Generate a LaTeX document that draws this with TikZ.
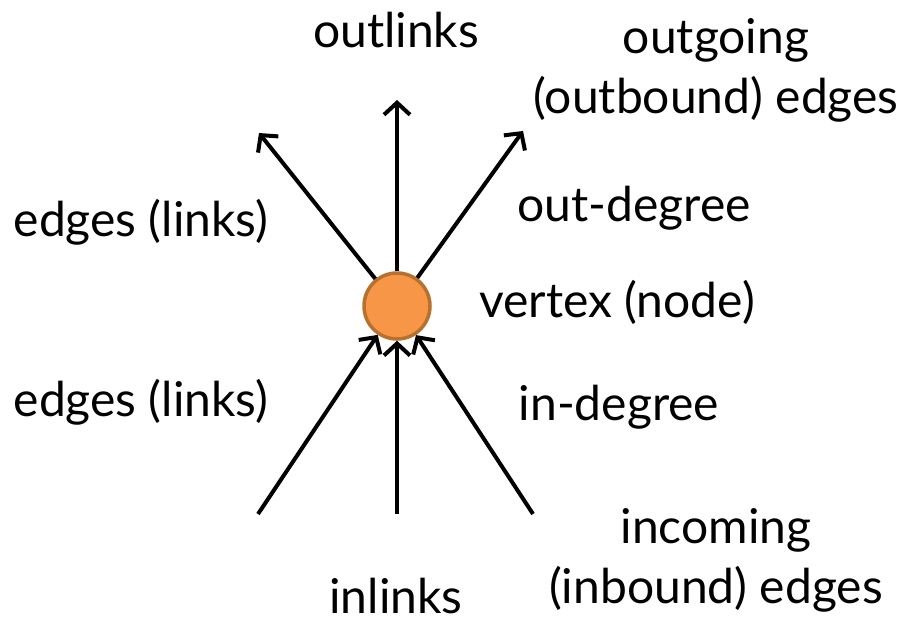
\documentclass[tikz,border=0pt]{standalone}
\usepackage{fontspec}
\setmainfont{Lato}
\usetikzlibrary{arrows.meta}
\definecolor{vfill}{HTML}{F79646}
\definecolor{vdraw}{HTML}{B8702F}
\tikzset{
  vert/.style={circle, fill=vfill, draw=vdraw, line width=3.5pt, minimum size=66pt, inner sep=0pt},
  edge/.style={line width=4pt, -{Straight Barb[length=12pt,width=26pt,line width=4pt]}},
  lbl/.style={font=\fontsize{48}{60}\selectfont, align=center, inner sep=0pt}
}
\begin{document}
\begin{tikzpicture}[x=1pt,y=-1pt]
\useasboundingbox (0,0) rectangle (910,626);
\node[vert] (v) at (397,306) {};
\coordinate (tl) at (259,133);
\coordinate (tc) at (397,100);
\coordinate (tr) at (523,131);
\coordinate (bl) at (258,514);
\coordinate (bc) at (397,514);
\coordinate (br) at (533,514);
\draw[edge] (v) -- (tl);
\draw[edge] (v) -- (tc);
\draw[edge] (v) -- (tr);
\draw[edge] (bl) -- (v);
\draw[edge] (bc) -- (v);
\draw[edge] (br) -- (v);
\node[lbl] (outl) at (396,30) {outlinks};
\node[lbl] (outg) at (716,70) {outgoing\\(outbound) edges};
\node[lbl] (outd) at (634,208) {out-degree};
\node[lbl] (e1) at (141,222) {edges (links)};
\node[lbl] (vn) at (617,302) {vertex (node)};
\node[lbl] (e2) at (141,402) {edges (links)};
\node[lbl] (ind) at (619,407) {in-degree};
\node[lbl] (inc) at (716,560) {incoming\\(inbound) edges};
\node[lbl, anchor=base] (inl) at (396,613) {inlinks};
\end{tikzpicture}
\end{document}
